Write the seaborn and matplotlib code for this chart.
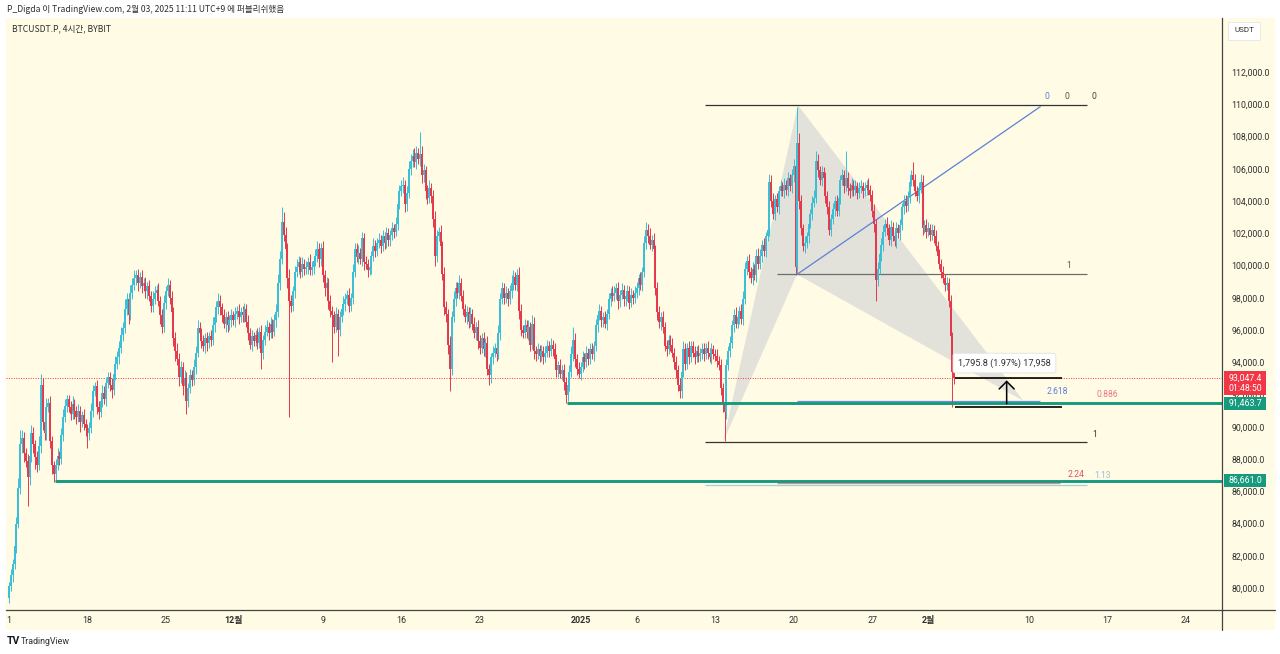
import numpy as np
import pandas as pd
import matplotlib
matplotlib.use("Agg")
import matplotlib.pyplot as plt
import matplotlib.transforms as mtransforms
from matplotlib.patches import Rectangle, Polygon
from matplotlib.lines import Line2D
import seaborn as sns

# ---------------- data (prices in thousands USDT, 4h candles from 11 Nov 00:00 KST) -------------
first_open = 79.4
close_nov = [
    80.1, 80.8, 81.5, 82.6, 84.0, 86.2,
    88.9, 89.3, 88.4, 87.9, 86.9, 88.2,
    89.6, 88.9, 88.1, 87.6, 88.8, 92.6,
    90.3, 89.6, 91.2, 91.5, 89.1, 87.6,
    87.1, 87.6, 88.2, 88.0, 89.5, 90.6,
    91.3, 91.7, 91.2, 90.8, 91.4, 91.0,
    90.6, 91.0, 90.3, 90.7, 90.2, 89.9,
    89.6, 89.9, 91.0, 92.2, 92.5, 91.2,
    90.9, 91.6, 92.1, 91.7, 92.7, 93.1,
    92.6, 92.3, 93.3, 93.9, 94.3, 94.9,
    95.7, 96.1, 97.3, 97.9, 96.9, 98.3,
    98.8, 99.2, 99.4, 98.9, 99.3, 98.7,
    98.9, 98.4, 98.7, 98.1, 97.5, 97.9,
    98.3, 98.5, 97.8, 96.9, 96.2, 97.7,
    98.4, 98.8, 98.0, 97.1, 95.5, 94.7,
    94.2, 93.1, 93.7, 92.5, 93.0, 91.6,
    92.4, 93.2, 92.9, 93.7, 94.6, 96.1,
    95.8, 95.3, 95.0, 95.5, 95.2, 95.6,
    95.4, 96.3, 96.8, 97.4, 97.8, 97.4,
    96.9, 96.4, 96.8, 96.3, 96.6, 96.9,
]
close_dec = [
    96.6, 97.0, 97.2, 96.8, 97.1, 96.9,
    97.3, 96.5, 95.8, 95.1, 95.6, 95.3,
    95.7, 95.2, 95.9, 94.6, 95.4, 95.9,
    96.2, 95.8, 96.4, 95.9, 96.6, 97.1,
    98.9, 100.4, 102.7, 101.9, 101.0, 99.2,
    97.8, 97.5, 98.4, 99.6, 99.9, 100.2,
    99.6, 100.1, 99.8, 99.9, 100.2, 99.7,
    99.9, 100.3, 100.6, 101.0, 100.4, 101.1,
    99.4, 98.6, 98.9, 97.8, 97.2, 96.9,
    96.2, 97.0, 96.0, 96.8, 97.3, 97.6,
    97.9, 98.2, 97.5, 98.0, 99.6, 101.0,
    100.5, 100.8, 100.4, 101.7, 100.2, 100.1,
    99.7, 99.9, 100.6, 101.2, 100.9, 101.4,
    101.6, 101.2, 101.8, 101.4, 102.0, 101.6,
    101.9, 102.3, 102.1, 102.6, 103.8, 104.6,
    104.9, 105.0, 103.8, 104.5, 106.0, 106.5,
    106.8, 106.4, 107.0, 106.6, 106.9, 105.6,
    105.9, 104.6, 104.2, 104.8, 104.3, 102.9,
    100.6, 101.8, 102.1, 101.2, 99.5, 97.4,
    97.0, 95.1, 93.6, 96.8, 97.9, 98.6,
    98.3, 98.9, 98.1, 97.3, 96.8, 97.1,
    96.5, 97.0, 96.4, 95.8, 96.2, 95.3,
    94.9, 95.5, 94.8, 95.2, 93.6, 93.2,
    94.3, 94.6, 94.9, 94.5, 95.8, 97.9,
    98.6, 98.0, 98.3, 97.9, 98.4, 98.9,
    99.3, 98.8, 99.4, 97.2, 96.0, 95.8,
    96.3, 95.9, 96.2, 95.1, 96.4, 94.7,
    94.5, 94.8, 94.4, 94.7, 94.3, 94.6,
    95.0, 94.7, 95.1, 94.8, 94.2, 93.5,
    93.8, 93.3, 93.5, 92.8, 92.0, 92.6,
    93.4, 94.5, 95.4, 94.2, 93.6, 93.3,
]
close_jan = [
    93.7, 94.3, 94.0, 94.6, 94.2, 94.8,
    94.5, 95.0, 96.3, 96.9, 97.2, 96.6,
    96.8, 96.4, 97.0, 97.9, 98.3, 98.1,
    98.3, 98.6, 97.8, 98.2, 98.5, 97.9,
    98.1, 98.4, 97.7, 98.2, 98.0, 98.3,
    98.6, 99.2, 98.8, 99.6, 101.4, 102.2,
    101.8, 101.3, 101.6, 101.0, 98.6, 97.1,
    96.5, 96.8, 96.2, 95.0, 94.8, 95.4,
    95.1, 94.6, 94.0, 93.5, 92.6, 92.2,
    93.4, 94.8, 93.9, 94.9, 94.3, 95.0,
    94.6, 94.3, 94.7, 94.4, 94.6, 94.8,
    94.5, 94.9, 94.6, 94.3, 94.8, 94.5,
    94.4, 94.1, 93.8, 92.4, 91.4, 90.9,
    93.8, 94.7, 95.2, 96.3, 96.9, 96.4,
    96.8, 97.2, 96.7, 97.9, 99.8, 100.3,
    99.6, 99.2, 99.8, 99.4, 100.6, 100.1,
    100.6, 101.3, 100.9, 101.8, 102.2, 105.2,
    104.0, 103.2, 104.1, 103.6, 104.6, 104.9,
    104.6, 105.0, 104.7, 105.4, 104.9, 105.6,
    106.2, 99.9, 107.6, 104.0, 102.3, 101.2,
    101.4, 101.8, 102.6, 103.2, 103.9, 104.2,
    106.5, 105.9, 105.3, 105.8, 105.4, 104.3,
    103.6, 102.2, 102.9, 103.5, 104.0, 103.4,
    104.2, 105.3, 105.6, 104.9, 105.4, 104.8,
    104.6, 105.0, 104.7, 104.9, 104.5, 104.8,
    104.9, 104.6, 104.8, 105.0, 104.7, 104.4,
    103.4, 102.6, 99.1, 99.8, 100.7, 101.3,
    102.1, 102.6, 102.3, 101.6, 102.4, 101.8,
    101.5, 102.3, 102.0, 102.5, 103.6, 104.0,
    103.7, 104.3, 105.2, 105.6, 105.3, 104.6,
    104.3, 104.8, 105.2, 102.3, 102.5, 102.1,
]
close_feb = [
    102.3, 101.9, 102.2, 101.8, 101.2, 100.6,
    100.1, 99.6, 99.2, 98.8, 98.9, 97.8,
    95.6, 93.4, 93.0474,
]
# wick lengths beyond the body, in hundreds of USDT
up_nov = [
    3, 4, 3, 5, 4, 6,  9, 5, 4, 3, 4, 6,  5, 4, 3, 4, 6, 7,  4, 5, 6, 3, 4, 3,
    3, 4, 5, 3, 4, 5,  4, 3, 3, 4, 5, 3,  3, 4, 3, 3, 4, 3,  3, 4, 5, 4, 3, 4,
    4, 3, 5, 4, 4, 3,  3, 4, 3, 5, 4, 4,  5, 4, 6, 4, 3, 5,  4, 5, 3, 4, 3, 4,
    3, 4, 3, 4, 3, 5,  4, 3, 4, 3, 4, 5,  3, 4, 3, 4, 3, 4,  5, 4, 4, 3, 5, 4,
    3, 4, 3, 5, 4, 5,  4, 3, 4, 3, 4, 3,  4, 5, 3, 4, 5, 4,  3, 4, 3, 4, 3, 4,
]
dn_nov = [
    3, 3, 4, 3, 4, 3,  4, 5, 6, 4, 18, 5,  4, 5, 7, 4, 3, 4,  5, 4, 4, 3, 4, 5,
    5, 4, 3, 4, 3, 4,  3, 4, 3, 4, 3, 5,  4, 3, 6, 3, 4, 5,  9, 4, 3, 4, 3, 4,
    4, 3, 4, 3, 4, 3,  4, 5, 3, 4, 3, 4,  3, 4, 3, 4, 5, 3,  4, 3, 4, 5, 3, 4,
    3, 4, 5, 3, 4, 4,  3, 4, 3, 5, 4, 3,  4, 3, 4, 3, 5, 6,  4, 6, 4, 5, 3, 8,
    4, 3, 4, 3, 4, 3,  3, 4, 3, 4, 5, 3,  4, 3, 4, 3, 4, 5,  4, 3, 5, 4, 3, 4,
]
up_dec = [
    3, 4, 3, 4, 3, 4,  4, 3, 4, 3, 4, 3,  3, 4, 3, 4, 3, 4,  4, 3, 4, 3, 4, 5,
    6, 5, 9, 6, 5, 4,  6, 4, 3, 4, 5, 4,  3, 4, 3, 4, 3, 5,  4, 3, 4, 5, 4, 3,
    4, 3, 4, 3, 4, 3,  3, 4, 3, 4, 3, 5,  4, 3, 4, 3, 5, 4,  4, 5, 3, 4, 3, 4,
    3, 4, 3, 5, 4, 3,  4, 3, 4, 3, 4, 3,  3, 4, 3, 4, 5, 4,  4, 5, 3, 4, 5, 4,
    4, 5, 4, 3, 14, 5,  4, 3, 4, 5, 3, 4,  5, 4, 3, 4, 3, 4,  4, 3, 5, 4, 5, 4,
    4, 5, 3, 4, 3, 4,  3, 4, 3, 4, 3, 4,  4, 3, 4, 3, 4, 3,  3, 4, 3, 4, 5, 4,
    4, 3, 4, 3, 4, 5,  4, 3, 4, 5, 4, 3,  4, 3, 4, 3, 5, 4,  3, 4, 3, 4, 3, 4,
    4, 3, 4, 3, 4, 3,  3, 4, 3, 4, 3, 4,  4, 5, 8, 4, 3, 4,
]
dn_dec = [
    3, 4, 3, 4, 3, 4,  4, 3, 4, 3, 4, 3,  3, 4, 3, 10, 4, 3,  3, 4, 3, 4, 3, 4,
    3, 4, 3, 4, 5, 6,  72, 4, 3, 4, 3, 4,  4, 3, 4, 3, 4, 3,  3, 4, 3, 4, 5, 4,
    4, 5, 4, 5, 4, 29,  4, 3, 16, 4, 3, 4,  4, 3, 4, 3, 4, 3,  3, 4, 3, 4, 5, 3,
    4, 3, 4, 3, 4, 3,  3, 4, 3, 4, 3, 4,  4, 3, 4, 3, 4, 3,  3, 4, 5, 4, 3, 4,
    4, 3, 4, 3, 4, 5,  4, 5, 4, 3, 4, 5,  6, 4, 3, 5, 4, 5,  5, 6, 14, 4, 3, 4,
    3, 4, 3, 4, 3, 4,  4, 3, 4, 3, 4, 5,  4, 3, 4, 5, 4, 6,  5, 4, 3, 4, 3, 4,
    3, 4, 3, 4, 3, 4,  4, 3, 4, 5, 4, 3,  3, 4, 5, 4, 3, 5,  4, 3, 4, 3, 4, 3,
    3, 4, 3, 4, 3, 4,  4, 3, 4, 5, 5, 4,  4, 3, 4, 5, 4, 3,
]
up_jan = [
    3, 4, 3, 4, 3, 4,  4, 3, 4, 3, 4, 3,  3, 4, 3, 4, 3, 4,  4, 3, 4, 3, 4, 3,
    3, 4, 3, 4, 3, 4,  4, 3, 4, 3, 4, 5,  4, 5, 3, 4, 3, 4,  4, 3, 4, 3, 4, 3,
    3, 4, 3, 4, 3, 4,  4, 5, 4, 3, 4, 3,  3, 4, 3, 4, 3, 4,  4, 3, 4, 3, 4, 3,
    3, 4, 3, 4, 3, 4,  4, 3, 4, 3, 4, 5,  4, 3, 4, 5, 4, 3,  4, 3, 4, 3, 4, 5,
    4, 3, 4, 3, 4, 5,  4, 5, 3, 4, 3, 4,  3, 4, 3, 4, 3, 4,  4, 3, 22, 6, 4, 3,
    4, 3, 4, 3, 4, 5,  6, 4, 3, 4, 3, 4,  3, 4, 3, 4, 3, 4,  4, 3, 4, 3, 17, 4,
    3, 4, 3, 4, 3, 4,  4, 3, 4, 3, 4, 3,  3, 4, 3, 4, 3, 4,  4, 3, 4, 3, 4, 3,
    3, 4, 3, 4, 3, 4,  4, 3, 4, 3, 8, 4,  3, 4, 5, 4, 3, 4,
]
dn_jan = [
    4, 3, 4, 3, 4, 3,  3, 4, 3, 4, 3, 4,  4, 3, 4, 3, 4, 3,  3, 4, 5, 4, 3, 4,
    4, 3, 4, 3, 4, 3,  3, 4, 3, 4, 3, 4,  4, 3, 4, 3, 4, 5,  4, 5, 4, 3, 4, 3,
    4, 3, 4, 5, 4, 4,  4, 3, 4, 3, 4, 3,  3, 4, 3, 4, 3, 4,  4, 3, 4, 3, 4, 3,
    3, 4, 3, 4, 5, 18,  4, 3, 4, 3, 4, 3,  3, 4, 3, 4, 3, 4,  4, 3, 4, 3, 4, 3,
    3, 4, 3, 4, 3, 4,  4, 3, 4, 3, 4, 3,  3, 4, 3, 4, 3, 4,  4, 5, 4, 5, 4, 3,
    4, 3, 4, 3, 4, 3,  3, 4, 3, 4, 3, 4,  4, 3, 4, 3, 4, 3,  3, 4, 3, 4, 3, 4,
    4, 3, 4, 3, 4, 3,  3, 4, 3, 4, 3, 4,  4, 5, 13, 4, 3, 4,  4, 3, 4, 3, 4, 3,
    3, 4, 3, 4, 3, 4,  4, 3, 4, 3, 4, 3,  3, 4, 3, 4, 3, 4,
]
up_feb = [4, 3, 4, 3, 4, 3,  4, 3, 4, 3, 4, 3,  4, 3, 5]
dn_feb = [3, 4, 3, 4, 3, 4,  3, 4, 3, 4, 3, 4,  5, 21.5, 4]

# axis ticks
y_ticks = list(range(80, 113, 2))
x_tick_days = [0, 7, 14, 20, 28, 35, 42, 51, 56, 63, 70, 77, 82, 91, 98, 105]
x_tick_labels = ["1", "18", "25", "12월", "9", "16", "23", "2025", "6", "13", "20", "27",
                 "2월", "10", "17", "24"]
bold_labels = ["12월", "2025", "2월"]

# price levels / drawings (day index, price in k)
last_price = 93.0474
support_hi = 91.4637
support_hi_start = 49.8
support_lo = 86.661
support_lo_start = 4.1
measure_low = 91.2516
measure_text = "1,795.8 (1.97%) 17,958"
pattern_days = [63.7, 70.38, 70.29, 90.5]
pattern_prices = [89.05, 109.95, 99.45, 91.6]

# ---------------- derived candle arrays ----------------
closes = np.array(close_nov + close_dec + close_jan + close_feb)
wup = np.array(up_nov + up_dec + up_jan + up_feb, dtype=float) / 10.0
wdn = np.array(dn_nov + dn_dec + dn_jan + dn_feb, dtype=float) / 10.0
assert len(closes) == len(wup) == len(wdn)
opens = np.concatenate([[first_open], closes[:-1]])
highs = np.maximum(opens, closes) + wup
lows = np.minimum(opens, closes) - wdn
days = np.arange(len(closes)) / 6.0
df = pd.DataFrame({"day": days, "open": opens, "high": highs, "low": lows, "close": closes})

# ---------------- style ----------------
sns.set_theme(style="white")
plt.rcParams["font.family"] = ["Roboto", "Noto Sans CJK KR", "DejaVu Sans"]

CREAM = "#fffbe4"
UP = "#38bfd6"
DN = "#e5374b"
TEAL = "#169a7e"
TXT = "#2f2f2f"

W, H = 1280, 654
fig = plt.figure(figsize=(12.8, 6.54), dpi=100, facecolor="white")

def fx(px):
    return px / W

def fy(py):
    return 1 - py / H

# cream panel behind everything
fig.patches.append(Rectangle((fx(6), fy(630)), fx(1275) - fx(6), fy(18) - fy(630),
                             transform=fig.transFigure, facecolor=CREAM, edgecolor="none", zorder=-5))

ax = fig.add_axes([fx(6), fy(610), fx(1222) - fx(6), fy(18) - fy(610)])
ax.set_zorder(1)
ax.set_facecolor(CREAM)
ax.set_xlim(-0.268, 108.21)
ax.set_ylim(78.636, 115.349)

for s in ["top", "left"]:
    ax.spines[s].set_visible(False)
for s in ["bottom", "right"]:
    ax.spines[s].set_color("#444444")
    ax.spines[s].set_linewidth(0.9)
fig.add_artist(Line2D([fx(1222), fx(1275)], [fy(610), fy(610)], transform=fig.transFigure,
                      color="#444444", lw=0.9, zorder=3))
fig.add_artist(Line2D([fx(1222), fx(1222)], [fy(610), fy(630)], transform=fig.transFigure,
                      color="#444444", lw=0.9, zorder=3))

# ---------------- candles ----------------
upm = df["close"] >= df["open"]
cols = np.where(upm, UP, DN)
ax.vlines(df["day"], df["low"], df["high"], colors=cols, lw=0.7, zorder=4)
body_lo = np.minimum(df["open"], df["close"])
body_hi = np.maximum(np.maximum(df["open"], df["close"]), body_lo + 0.06)
ax.vlines(df["day"], body_lo, body_hi, colors=cols, lw=1.4, zorder=4)

# ---------------- harmonic pattern ----------------
P = list(zip(pattern_days, pattern_prices))
ax.add_patch(Polygon([P[0], P[1], P[2]], closed=True, facecolor="#c6cad3", alpha=0.5,
                     edgecolor="none", zorder=2))
ax.add_patch(Polygon([P[1], P[2], P[3]], closed=True, facecolor="#c6cad3", alpha=0.5,
                     edgecolor="none", zorder=2))

# fib / level lines
ax.hlines(109.95, 62.1, 96.2, color="#333333", lw=0.9, zorder=3)
ax.hlines(99.45, 68.5, 96.2, color="#6d6d6d", lw=0.9, zorder=3)
ax.hlines(89.05, 62.1, 96.2, color="#333333", lw=0.9, zorder=3)
ax.hlines(91.6, 70.3, 92.0, color="#6b8fd8", lw=0.9, zorder=3)
ax.hlines(86.49, 68.5, 93.75, color="#d98c8c", lw=0.9, zorder=3)
ax.hlines(86.36, 62.1, 96.2, color="#a9cbe2", lw=0.9, zorder=3)
line_df = pd.DataFrame({"day": [70.3, 92.0], "price": [99.45, 109.85]})
sns.lineplot(data=line_df, x="day", y="price", ax=ax, color="#5b80d8", lw=0.9, zorder=3)
ax.set_xlabel("")
ax.set_ylabel("")

lbl_kw = dict(fontsize=6.2, va="center", ha="left", zorder=6)
ax.text(92.4, 110.45, "0", color="#5b80d8", **lbl_kw)
ax.text(94.2, 110.45, "0", color="#555555", **lbl_kw)
ax.text(96.6, 110.45, "0", color="#444444", **lbl_kw)
ax.text(94.3, 100.0, "1", color="#555555", **lbl_kw)
ax.text(96.6, 89.55, "1", color="#333333", **lbl_kw)
ax.text(92.6, 92.16, "2.618", color="#5b80d8", **lbl_kw)
ax.text(97.0, 92.03, "0.886", color="#e77b86", **lbl_kw)
ax.text(94.4, 87.07, "2.24", color="#d9535f", **lbl_kw)
ax.text(96.8, 86.95, "1.13", color="#9bbfda", **lbl_kw)

# support lines
ax.hlines(support_hi, support_hi_start, 108.21, color=TEAL, lw=2.1, zorder=5)
ax.hlines(support_lo, support_lo_start, 108.21, color=TEAL, lw=2.1, zorder=5)
ax.axhline(last_price, color="#f23645", lw=0.7, ls=(0, (1, 1.5)), zorder=3)

# measurement tool
m_left, m_right, m_mid = 84.4, 93.9, 89.0
ax.hlines([last_price, measure_low], m_left, m_right, color="black", lw=1.2, zorder=6)
ax.annotate("", xy=(m_mid, last_price), xytext=(m_mid, measure_low),
            arrowprops=dict(arrowstyle="->,head_width=0.45,head_length=0.45", color="black", lw=1.1),
            zorder=6)
ax.text(88.8, 93.95, measure_text, ha="center", va="center", fontsize=6.6, color=TXT, zorder=7,
        bbox=dict(boxstyle="round,pad=0.55,rounding_size=0.25", fc="white", ec="#e2e2e2", lw=0.6))

# ---------------- axes ticks ----------------
ax.yaxis.tick_right()
ax.set_yticks(y_ticks)
ax.set_yticklabels([f"{v * 1000:,.1f}" for v in y_ticks])
ax.tick_params(axis="y", length=0, pad=6.8, labelsize=6.3, labelcolor=TXT)
ax.set_xticks(x_tick_days)
ax.set_xticklabels(x_tick_labels)
ax.tick_params(axis="x", length=0, pad=4.5, labelsize=6.4, labelcolor=TXT)
for tl in ax.get_xticklabels():
    if tl.get_text() in bold_labels:
        tl.set_fontweight("bold")

# ---------------- price tags on the right axis ----------------
bt = mtransforms.blended_transform_factory(ax.transAxes, ax.transData)
pxk = 1 / 16.125  # price (k) per pixel
tag_x0 = (1224 - 6) / 1216
tag_w = 42 / 1216

def tag(center, lines, color, h_px):
    h = h_px * pxk
    ax.add_patch(Rectangle((tag_x0, center - h / 2), tag_w, h, transform=bt, facecolor=color,
                           edgecolor="none", clip_on=False, zorder=10))
    ax.text(tag_x0 + tag_w / 2, center, lines, transform=bt, ha="center", va="center",
            fontsize=6.3, color="white", linespacing=1.25, zorder=11, clip_on=False)

tag(last_price - 0.36, f"{last_price * 1000:,.1f}\n01:48:50", "#f23645", 24)
tag(support_hi, f"{support_hi * 1000:,.1f}", TEAL, 13)
tag(support_lo, f"{support_lo * 1000:,.1f}", TEAL, 13)

# USDT box
fig.patches.append(Rectangle((fx(1228), fy(40)), fx(1260) - fx(1228), fy(22) - fy(40),
                             transform=fig.transFigure, facecolor="white", edgecolor="#e6e6e6",
                             lw=0.6, zorder=5))
fig.text(fx(1244), fy(30.5), "USDT", ha="center", va="center", fontsize=5.8, color=TXT, zorder=6)

# ---------------- header / footer text ----------------
fig.text(fx(7), fy(9), "P_Digda 이 TradingView.com, 2월 03, 2025 11:11 UTC+9 에 퍼블리쉬했음",
         ha="left", va="center", fontsize=6.2, color=TXT,
         family=["Noto Sans CJK KR", "DejaVu Sans"])
fig.text(fx(12), fy(29), "BTCUSDT.P, 4시간, BYBIT", ha="left", va="center", fontsize=6.2,
         color=TXT, family=["Noto Sans CJK KR", "DejaVu Sans"], zorder=6)
fig.text(fx(7), fy(641), "TV", ha="left", va="center", fontsize=7.5, fontweight="bold",
         color="#131722")
fig.text(fx(21), fy(641), "TradingView", ha="left", va="center", fontsize=6.4, color=TXT)

fig.savefig("out.png", dpi=100, facecolor="white")
